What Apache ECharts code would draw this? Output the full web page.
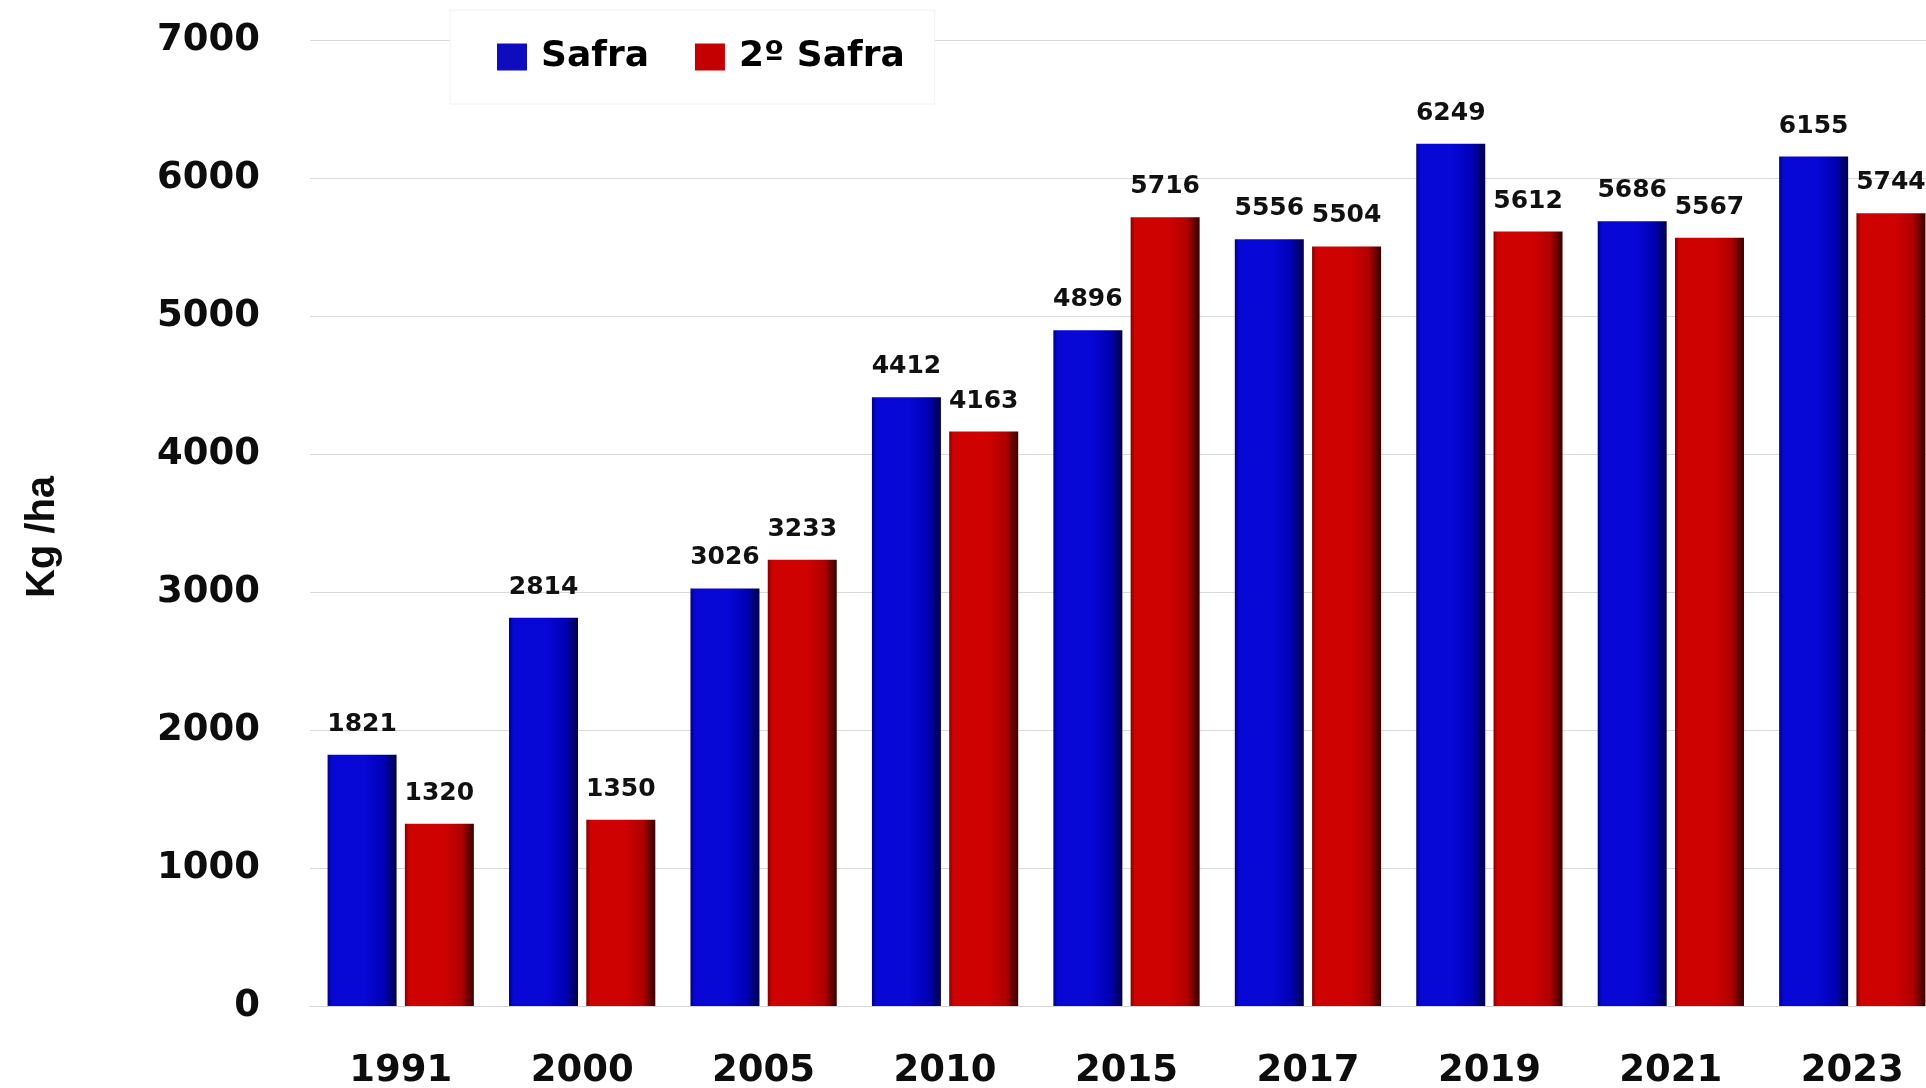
<!DOCTYPE html>
<html lang="pt">

<head>
    <meta charset="UTF-8">
    <title>Produtividade Safra / 2º Safra</title>
    <script src="https://cdn.jsdelivr.net/npm/echarts@6/dist/echarts.min.js"></script>
    <style>
        html, body { margin: 0; padding: 0; background: #fff; }
        #chart { width: 1926px; height: 1088px; }
    </style>
</head>

<body>
    <div id="chart"></div>
</body>
<script>
    // dados
    var anos = ["1991", "2000", "2005", "2010", "2015", "2017", "2019", "2021", "2023"];
    var safra = [1821, 2814, 3026, 4412, 4896, 5556, 6249, 5686, 6155];
    var safra2 = [1320, 1350, 3233, 4163, 5716, 5504, 5612, 5567, 5744];
    var yTicks = [0, 1000, 2000, 3000, 4000, 5000, 6000, 7000];

    // gradiente horizontal para imitar o efeito 3D das barras
    function barGrad(edge, mid, mid2, dark) {
        return new echarts.graphic.LinearGradient(0, 0, 1, 0, [
            { offset: 0, color: edge },
            { offset: 0.06, color: mid },
            { offset: 0.55, color: mid },
            { offset: 0.82, color: mid2 },
            { offset: 1, color: dark }
        ]);
    }

    var labelStyle = {
        show: true,
        position: "top",
        distance: 18,
        color: "#111",
        fontFamily: "DejaVu Sans",
        fontWeight: "bold",
        fontSize: 25
    };

    var chart = echarts.init(document.getElementById("chart"));
    var option = {
        animation: false,
        grid: {
            left: 310,
            top: 40,
            bottom: 82,
            width: 1633,
            outerBoundsMode: "none"
        },
        legend: {
            left: 450,
            top: 10,
            padding: [29, 30, 29, 47],
            backgroundColor: "#fff",
            borderColor: "#f2f2f2",
            borderWidth: 1,
            itemWidth: 30,
            itemHeight: 27,
            itemGap: 46,
            textStyle: {
                color: "#000",
                fontFamily: "DejaVu Sans",
                fontWeight: "bold",
                fontSize: 36,
                padding: [0, 0, 0, 9]
            },
            data: [
                { name: "Safra", icon: "rect", itemStyle: { color: "#0d0dbf" } },
                { name: "2º Safra", icon: "rect", itemStyle: { color: "#c40000" } }
            ]
        },
        xAxis: {
            type: "category",
            data: anos,
            axisLine: { lineStyle: { color: "#d4d4d4", width: 1 } },
            axisTick: { show: false },
            axisLabel: {
                margin: 47,
                color: "#0d0d0d",
                fontFamily: "DejaVu Sans",
                fontWeight: "bold",
                fontSize: 37
            }
        },
        yAxis: {
            type: "value",
            min: yTicks[0],
            max: yTicks[yTicks.length - 1],
            interval: 1000,
            name: "Kg /ha",
            nameLocation: "middle",
            nameGap: 247,
            nameTextStyle: {
                color: "#0d0d0d",
                fontFamily: "Liberation Sans",
                fontWeight: "bold",
                fontSize: 40,
                padding: [0, 28, 0, 0]
            },
            axisLine: { show: false },
            axisTick: { show: false },
            axisLabel: {
                margin: 50,
                color: "#0d0d0d",
                fontFamily: "DejaVu Sans",
                fontWeight: "bold",
                fontSize: 37,
                formatter: function (v) { return String(v); }
            },
            splitLine: { lineStyle: { color: "#d9d9d9", width: 1 } }
        },
        series: [{
                name: "Safra",
                type: "bar",
                barWidth: 69,
                barGap: "12%",
                itemStyle: {
                    color: barGrad("#000080", "#0707d6", "#0000b4", "#00004a")
                },
                label: labelStyle,
                data: safra
            },
            {
                name: "2º Safra",
                type: "bar",
                barWidth: 69,
                itemStyle: {
                    color: barGrad("#820000", "#cf0202", "#b00000", "#360000")
                },
                label: labelStyle,
                data: safra2
            }
        ]
    };
    chart.setOption(option);
</script>

</html>
